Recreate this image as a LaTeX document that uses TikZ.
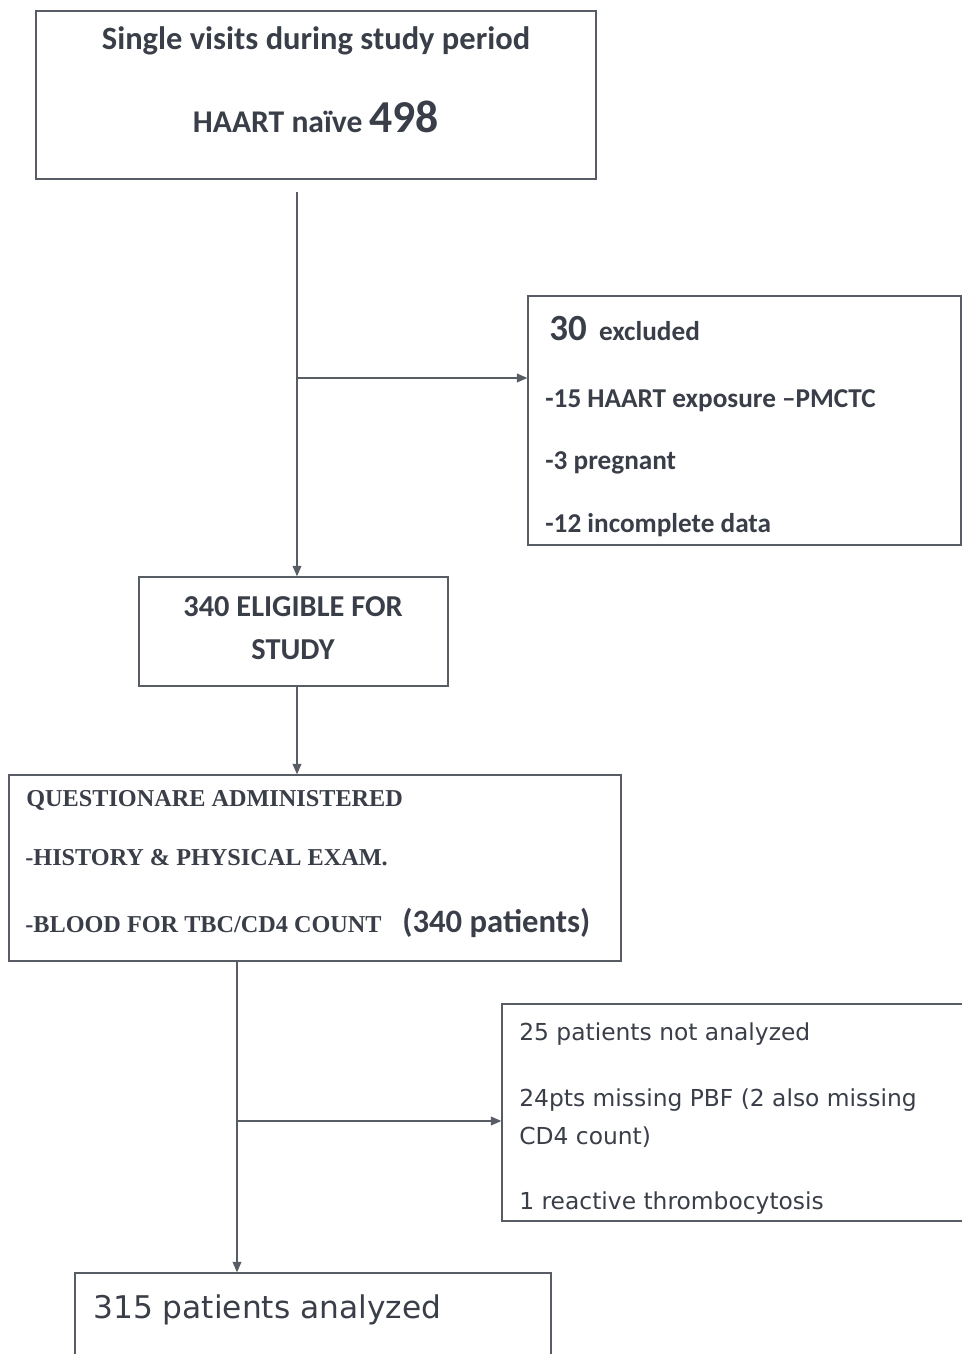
\documentclass[tikz,border=0pt]{standalone}
\usepackage{fontspec}
\setmainfont{Carlito}
\newfontfamily\capsfont{Liberation Serif}
\newfontfamily\roundfont{DejaVu Sans}
\usepackage{xcolor}
\usetikzlibrary{arrows.meta}
\usetikzlibrary{positioning}

\definecolor{ink}{RGB}{58,62,72}
\definecolor{rule}{RGB}{88,92,100}

\begin{document}
\begin{tikzpicture}[x=0.02cm, y=-0.02cm,
	box/.style={draw=rule, line width=0.8pt, inner sep=0pt},
	txt/.style={anchor=base west, inner sep=0pt, text=ink},
	mid/.style={anchor=base, inner sep=0pt, text=ink},
	arr/.style={draw=rule, line width=0.8pt, -{Triangle[length=6pt,width=5pt]}}]
		\useasboundingbox (0,0) rectangle (962,1354);
		\clip (0,0) rectangle (962,1354);
		
		% boxes
		\node[box, minimum width=11.2cm, minimum height=3.36cm] (start) at (316,95) {};
		\node[box, minimum width=8.66cm, minimum height=4.98cm] (excl) at (744.5,420.5) {};
		\node[box, minimum width=6.18cm, minimum height=2.18cm] (elig) at (293.5,631.5) {};
		\node[box, minimum width=12.24cm, minimum height=3.72cm] (quest) at (315,868) {};
		\node[box, minimum width=9.96cm, minimum height=4.34cm] (notan) at (751,1112.5) {};
		\node[box, minimum width=9.52cm, minimum height=2.54cm] (final) at (313,1336.5) {};
		
		% texts
		\node[mid, font=\bfseries\fontsize{18.5}{22}\selectfont] (t1) at (316,50) {Single visits during study period};
		\node[mid, font=\bfseries\fontsize{18}{22}\selectfont] (t2) at (316,133) {HAART naïve {\fontsize{26}{30}\selectfont 498}};
		
		\node[txt, font=\bfseries\fontsize{15.5}{18}\selectfont] (e1) at (549,341) {{\fontsize{21}{25}\selectfont 30}\ \ excluded};
		\node[txt, font=\bfseries\fontsize{15.5}{18}\selectfont] (e2) at (545,407) {-15 HAART exposure –PMCTC};
		\node[txt, font=\bfseries\fontsize{15.5}{18}\selectfont] (e3) at (545,469) {-3 pregnant};
		\node[txt, font=\bfseries\fontsize{15.5}{18}\selectfont] (e4) at (545,532) {-12 incomplete data};
		
		\node[mid, font=\bfseries\fontsize{17.3}{20}\selectfont] (g1) at (293,616) {340 ELIGIBLE FOR};
		\node[mid, font=\bfseries\fontsize{17.3}{20}\selectfont] (g2) at (293,659) {STUDY};
		
		\node[txt, font=\capsfont\bfseries\fontsize{13.8}{16}\selectfont] (q1) at (26,806) {QUESTIONARE ADMINISTERED};
		\node[txt, font=\capsfont\bfseries\fontsize{13.8}{16}\selectfont] (q2) at (25,865) {-HISTORY \& PHYSICAL EXAM.};
		\node[txt, font=\capsfont\bfseries\fontsize{13.8}{16}\selectfont] (q3) at (25,932) {-BLOOD FOR TBC/CD4 COUNT};
		\node[txt, font=\bfseries\fontsize{18.6}{22}\selectfont] (q4) at (402,932) {(340 patients)};
		
		\node[txt, font=\roundfont\fontsize{13.3}{16}\selectfont] (n1) at (519,1040) {25 patients not analyzed};
		\node[txt, font=\roundfont\fontsize{13.3}{16}\selectfont] (n2) at (519,1106) {24pts missing PBF (2 also missing};
		\node[txt, font=\roundfont\fontsize{13.3}{16}\selectfont] (n3) at (519,1144) {CD4 count)};
		\node[txt, font=\roundfont\fontsize{13.3}{16}\selectfont] (n4) at (519,1209) {1 reactive thrombocytosis};
		
		\node[txt, font=\roundfont\fontsize{17.8}{21}\selectfont] (f1) at (93,1318) {315 patients analyzed};
		
		% connectors
		\coordinate (s1) at (297,192);
		\coordinate (j1) at (297,378);
		\coordinate (j2) at (237,1121);
		\draw[arr] (s1) -- (s1 |- elig.north);
		\draw[arr] (j1) -- (j1 -| excl.west);
		\draw[arr] (elig.south -| s1) -- (quest.north -| s1);
		\draw[arr] (quest.south -| j2) -- (final.north -| j2);
		\draw[arr] (j2) -- (j2 -| notan.west);
\end{tikzpicture}
\end{document}
